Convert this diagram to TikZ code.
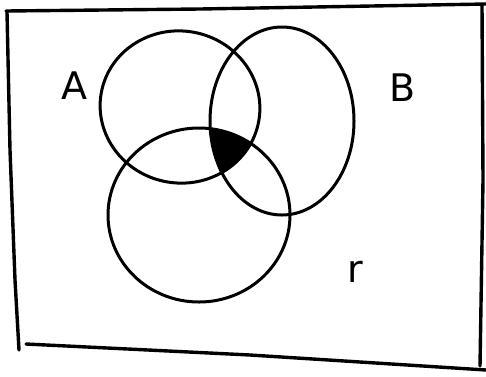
\documentclass[tikz,border=0pt]{standalone}
\usepackage{fontspec}
\setmainfont{DejaVu Sans}
\begin{document}
\begin{tikzpicture}[x=1pt,y=-1pt,
  ink/.style={line width=3pt,line cap=round,line join=round},
  lbl/.style={font=\fontsize{38}{38}\selectfont}]
\useasboundingbox (0,0) rectangle (486,376);
% frame
\draw[ink,line width=3.4pt] (6,11) -- (200,9) -- (486,4);
\draw[ink,line width=3.4pt] (7,12) -- (10,150) -- (15,280) -- (19,350);
\draw[ink,line width=3.4pt] (26,344) -- (250,355) -- (486,370);
\draw[ink,line width=3.4pt] (482,6) -- (483,180) -- (480,366);
% shaded triple intersection
\begin{scope}
  \clip[rotate around={-10:(180,107)}] (180,107) ellipse [x radius=80,y radius=76];
  \clip (282,121) ellipse [x radius=72,y radius=94];
  \fill (199,215) ellipse [x radius=91,y radius=87];
\end{scope}
% circles
\draw[ink,rotate around={-10:(180,107)}] (180,107) ellipse [x radius=80,y radius=76];
\draw[ink] (282,121) ellipse [x radius=72,y radius=94];
\draw[ink] (199,215) ellipse [x radius=91,y radius=87];
% labels
\node[lbl] (la) at (74,86) {A};
\node[lbl] (lb) at (403,88) {B};
\node[lbl] (lc) at (355,272) {r};
\end{tikzpicture}
\end{document}
